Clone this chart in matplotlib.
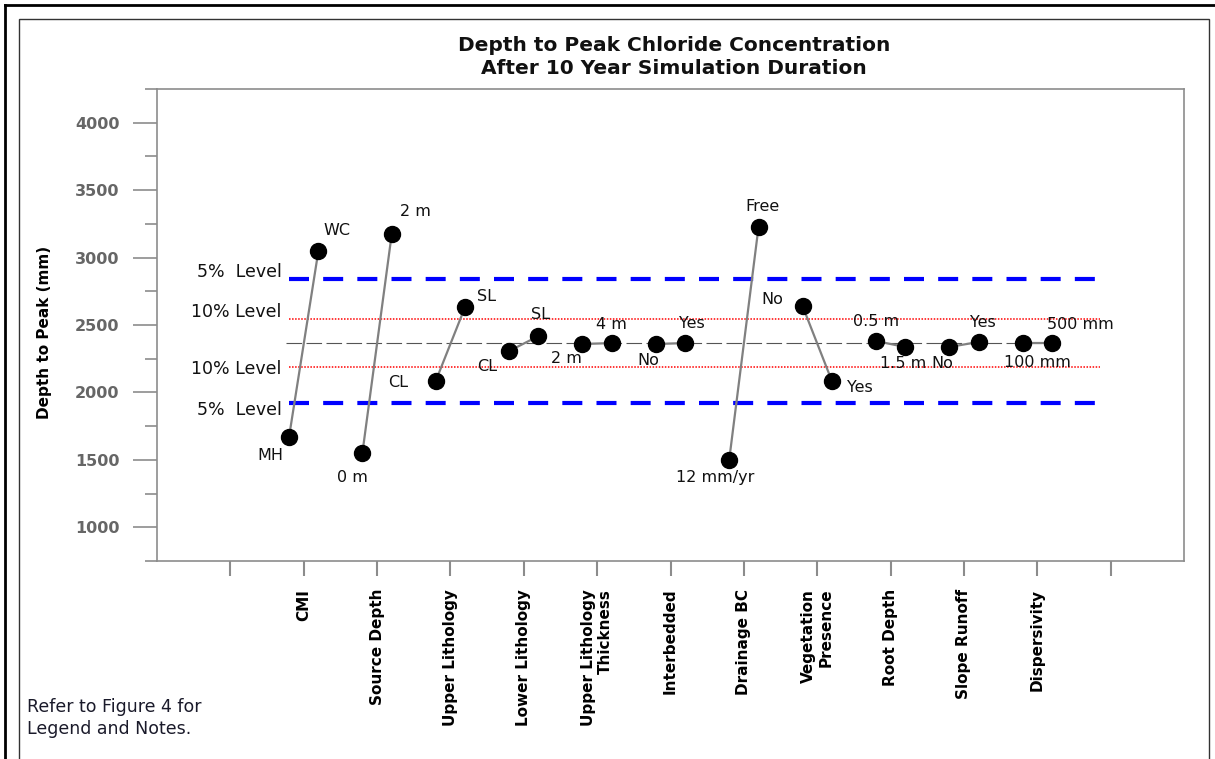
"""
Main effects of each model factor on depth to peak chloride concentration
"""

import matplotlib.pyplot as plt
from matplotlib.lines import Line2D
from matplotlib.patches import Rectangle
from matplotlib.ticker import MultipleLocator

FACTORS = [
    "CMI",
    "Source Depth",
    "Upper Lithology",
    "Lower Lithology",
    "Upper Lithology\nThickness",
    "Interbedded",
    "Drainage BC",
    "Vegetation\nPresence",
    "Root Depth",
    "Slope Runoff",
    "Dispersivity",
]
FIRST_LEVEL = ["MH", "0 m", "CL", "CL", "2 m", "No", "12 mm/yr", "No", "0.5 m", "No", "100 mm"]
SECOND_LEVEL = ["WC", "2 m", "SL", "SL", "4 m", "Yes", "Free", "Yes", "1.5 m", "Yes", "500 mm"]

# mean depth to peak (mm) for each factor level
FIRST_DEPTH = [1670, 1551, 2085, 2307, 2359, 2359, 1499, 2641, 2381, 2337, 2366]
SECOND_DEPTH = [3049, 3175, 2634, 2418, 2366, 2366, 3227, 2085, 2337, 2374, 2366]

GRAND_MEAN = 2365
LEVEL_10 = [2545, 2188]
LEVEL_5 = [2840, 1922]

# label offsets in pixels (dx, dy downwards) from each marker
FIRST_OFFSET = [(-19, 19), (-10, 25), (-38, 2), (-22, 15), (-16, 14), (-8, 16),
                (-14, 18), (-30, -6), (0, -20), (-7, 17), (15, 19)]
SECOND_OFFSET = [(19, -20), (24, -22), (21, -10), (2, -22), (0, -19), (7, -20),
                 (4, -20), (28, 7), (-2, 17), (4, -19), (28, -19)]

W, H = 1215, 759


def px(offset):
    """pixel offset -> offset points"""
    return (offset[0] * 0.72, -offset[1] * 0.72)


def plot_main_effects():
    """plot the main effect of every factor"""
    fig = plt.figure(figsize=(W / 100, H / 100), dpi=100)
    ax = fig.add_axes([157 / W, 1 - 561 / H, (1184 - 157) / W, (561 - 89) / H])

    # page frame
    fig.add_artist(Line2D([5 / W, 5 / W], [0, 1 - 5 / H], color="black", lw=2.0))
    fig.add_artist(Line2D([5 / W, 1], [1 - 5 / H, 1 - 5 / H], color="black", lw=2.0))
    fig.add_artist(Rectangle((19 / W, -0.01), (1209 - 19) / W, 1.01 - 19 / H,
                             fill=False, edgecolor="#333333", lw=1.0,
                             transform=fig.transFigure))

    xpos = list(range(1, len(FACTORS) + 1))

    ax.hlines(LEVEL_5, 0.8, 11.85, colors="#0000ff", lw=3.0,
              linestyles=(0, (4.8, 3.4)), zorder=1)
    ax.hlines(LEVEL_10, 0.8, 11.85, colors="#ff0000", lw=1.1,
              linestyles=(0, (1, 1)), zorder=1)
    ax.hlines(GRAND_MEAN, 0.76, 11.2, colors="#555555", lw=0.8,
              linestyles=(0, (14, 4)), zorder=1)

    for i, x in enumerate(xpos):
        xs = [x - 0.2, x + 0.2]
        ys = [FIRST_DEPTH[i], SECOND_DEPTH[i]]
        ax.plot(xs, ys, color="#808080", lw=1.6, zorder=2)
        ax.plot(xs, ys, "o", color="black", markersize=11.5, zorder=3)
        ax.annotate(FIRST_LEVEL[i], (xs[0], ys[0]), xytext=px(FIRST_OFFSET[i]),
                    textcoords="offset points", ha="center", va="center",
                    fontsize=11.5, color="#111111", zorder=4)
        ax.annotate(SECOND_LEVEL[i], (xs[1], ys[1]), xytext=px(SECOND_OFFSET[i]),
                    textcoords="offset points", ha="center", va="center",
                    fontsize=11.5, color="#111111", zorder=4)

    # significance level captions
    level_text = [("5%  Level", LEVEL_5[0], -7), ("10% Level", LEVEL_10[0], -7),
                  ("10% Level", LEVEL_10[1], 2), ("5%  Level", LEVEL_5[1], 7)]
    for text, yval, dy in level_text:
        ax.annotate(text, (0.7, yval), xytext=px((0, dy)), textcoords="offset points",
                    ha="right", va="center", fontsize=12.5, color="#111111")

    ax.set_xlim(-1, 13)
    ax.set_ylim(750, 4250)
    ax.set_xticks(range(0, 13))
    ax.set_xticklabels([""] + FACTORS + [""], rotation=90, fontweight="bold",
                       fontsize=11, va="top", ha="center", multialignment="right")
    ax.yaxis.set_major_locator(MultipleLocator(500))
    ax.yaxis.set_minor_locator(MultipleLocator(250))
    ax.set_yticks(range(1000, 4001, 500))

    for spine in ax.spines.values():
        spine.set_color("#8c8c8c")
        spine.set_linewidth(1.2)
    ax.tick_params(axis="x", length=11, width=1.5, color="#8c8c8c", pad=9)
    ax.tick_params(axis="y", which="major", length=17, width=1.2, color="#8c8c8c",
                   pad=10, labelsize=11.5, labelcolor="#666666")
    ax.tick_params(axis="y", which="minor", length=8.6, width=1.2, color="#8c8c8c")
    for label in ax.get_yticklabels():
        label.set_fontweight("bold")

    fig.text(45 / W, 1 - 332 / H, "Depth to Peak (mm)", rotation=90, ha="center",
             va="center", fontsize=11, fontweight="bold")
    fig.text(674 / W, 1 - 57 / H,
             "Depth to Peak Chloride Concentration\nAfter 10 Year Simulation Duration",
             ha="center", va="center", fontsize=14.5, fontweight="bold",
             color="#111111", linespacing=1.25)
    fig.text(27 / W, 1 - 718 / H, "Refer to Figure 4 for\nLegend and Notes.",
             ha="left", va="center", fontsize=12.5, color="#1a1a2a", linespacing=1.35)

    fig.savefig("out.png", dpi=100)


if __name__ == "__main__":
    plot_main_effects()
